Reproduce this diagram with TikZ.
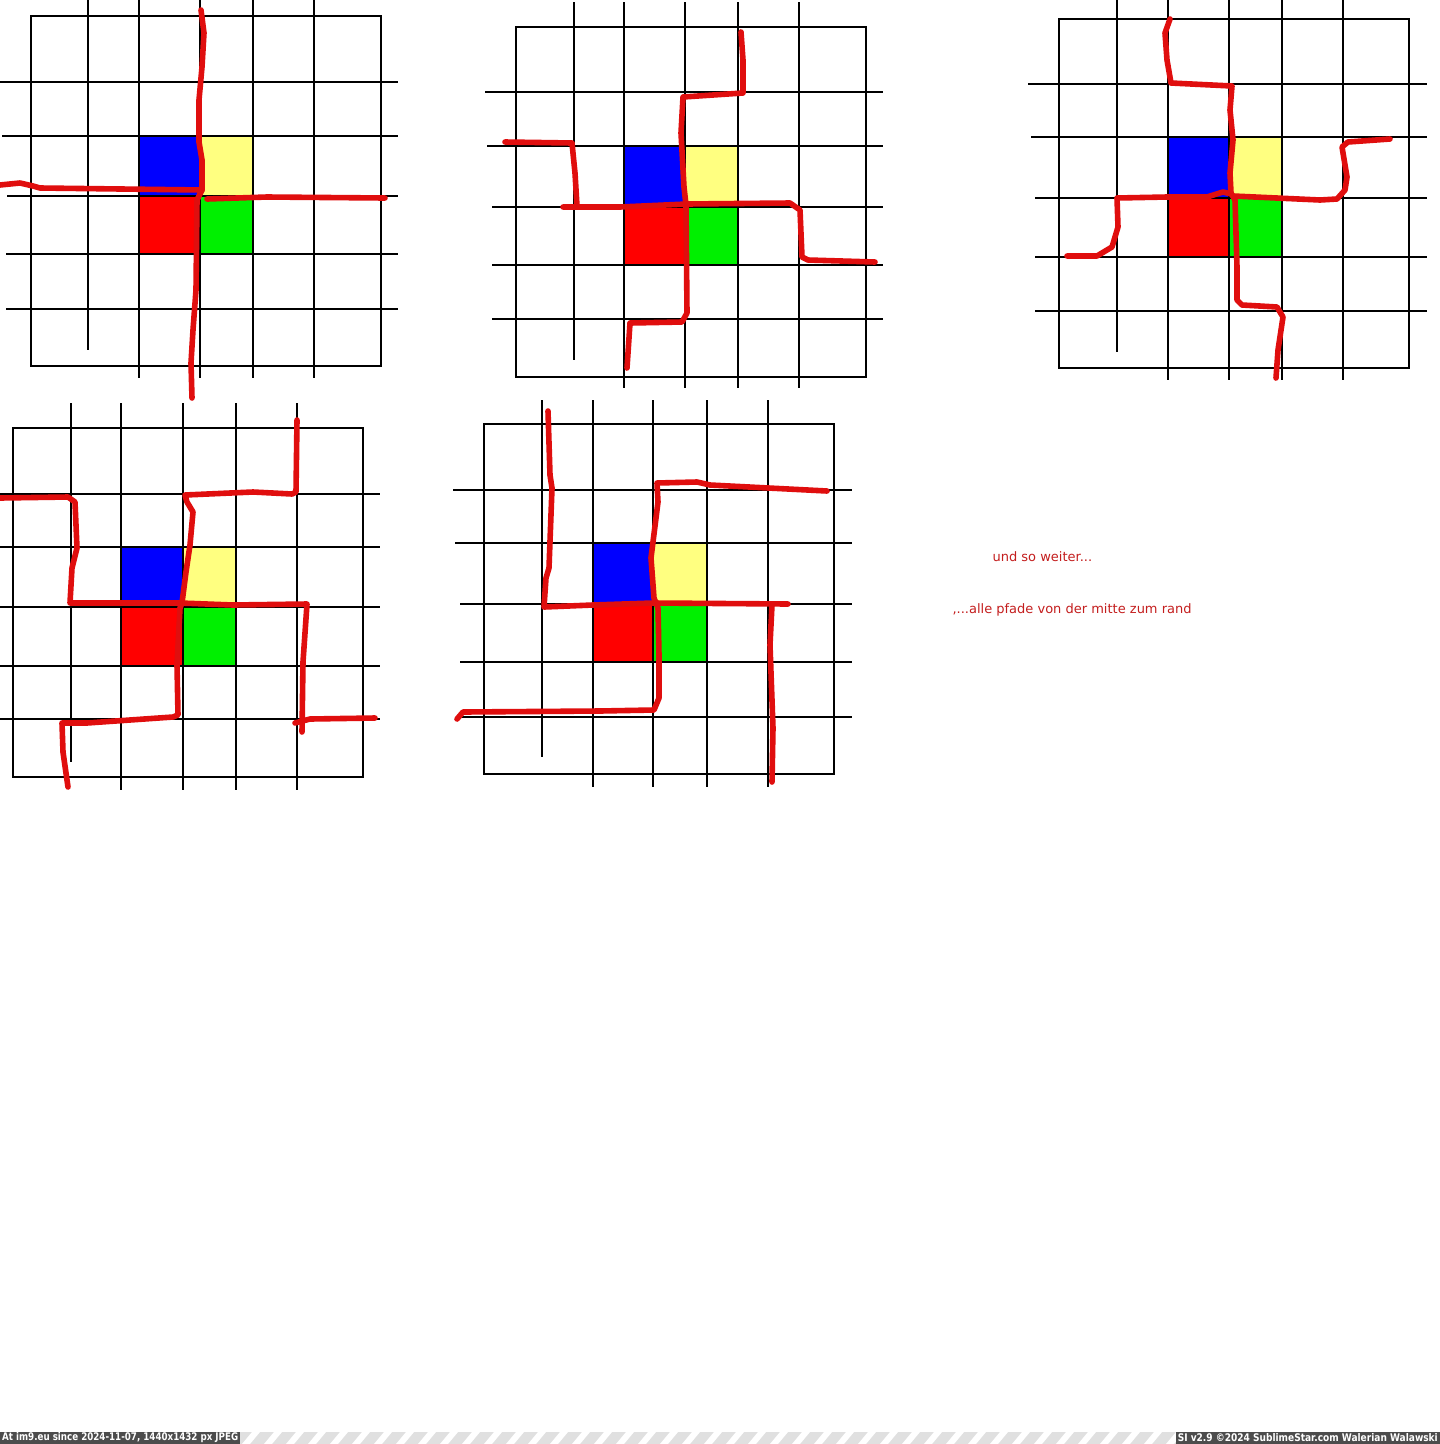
\documentclass[tikz,border=0pt]{standalone}
\usepackage{fontspec}
\setmainfont{DejaVu Sans}
\usepackage{graphicx}
\definecolor{pfadrot}{RGB}{224,14,14}
\definecolor{textrot}{RGB}{196,30,30}
\definecolor{feldblau}{RGB}{0,0,255}
\definecolor{feldgelb}{RGB}{255,255,128}
\definecolor{feldrot}{RGB}{255,0,0}
\definecolor{feldgruen}{RGB}{0,240,0}

\begin{document}
\begin{tikzpicture}[x=1pt,y=-1pt,
  gitter/.style={black, line width=1.2pt},
  pfad/.style={pfadrot, line width=5.6pt, line cap=round, line join=round},
  hinweis/.style={textrot, anchor=west, font=\fontsize{13}{15}\selectfont}]
\useasboundingbox (0,0) rectangle (1440,1444);
\fill[white] (0,0) rectangle (1440,1444);

\foreach \a/\b/\c/\d/\e/\f in {139/200/253/136/196/254, 624/685/738/146/207/265, 1168/1229/1282/137/198/257, 121/183/236/547/607/666, 593/653/707/543/604/662}{
  \fill[feldblau] (\a,\d) rectangle (\b,\e);
  \fill[feldgelb] (\b,\d) rectangle (\c,\e);
  \fill[feldrot] (\a,\e) rectangle (\b,\f);
  \fill[feldgruen] (\b,\e) rectangle (\c,\f);
}

\draw[gitter] (31,16) rectangle (381,366);
\foreach \x/\a/\b in {88/0/350, 139/0/378, 200/0/378, 253/0/378, 314/0/378} \draw[gitter] (\x,\a) -- (\x,\b);
\foreach \y/\a/\b in {82/0/398, 136/2/398, 196/7/398, 254/6/398, 309/6/398} \draw[gitter] (\a,\y) -- (\b,\y);

\draw[gitter] (516,27) rectangle (866,377);
\foreach \x/\a/\b in {574/2/360, 624/2/388, 685/2/388, 738/2/388, 799/2/388} \draw[gitter] (\x,\a) -- (\x,\b);
\foreach \y/\a/\b in {92/485/883, 146/487/883, 207/492/883, 265/492/883, 319/492/883} \draw[gitter] (\a,\y) -- (\b,\y);

\draw[gitter] (1059,19) rectangle (1409,368);
\foreach \x/\a/\b in {1117/0/352, 1168/0/380, 1229/0/380, 1282/0/380, 1343/0/380} \draw[gitter] (\x,\a) -- (\x,\b);
\foreach \y/\a/\b in {84/1028/1427, 137/1031/1427, 198/1035/1427, 257/1035/1427, 311/1035/1427} \draw[gitter] (\a,\y) -- (\b,\y);

\draw[gitter] (13,428) rectangle (363,777);
\foreach \x/\a/\b in {71/403/762, 121/403/790, 183/403/790, 236/403/790, 297/403/790} \draw[gitter] (\x,\a) -- (\x,\b);
\foreach \y/\a/\b in {494/0/380, 547/0/380, 607/0/380, 666/0/380, 719/0/380} \draw[gitter] (\a,\y) -- (\b,\y);

\draw[gitter] (484,424) rectangle (834,774);
\foreach \x/\a/\b in {542/400/757, 593/400/787, 653/400/787, 707/400/787, 768/400/787} \draw[gitter] (\x,\a) -- (\x,\b);
\foreach \y/\a/\b in {490/453/852, 543/455/852, 604/460/852, 662/460/852, 717/460/852} \draw[gitter] (\a,\y) -- (\b,\y);

\draw[pfad] (201,10) -- (204,33) -- (202,67) -- (199,100) -- (199,142) -- (202,160) -- (202,190) -- (197,200) -- (196,290) -- (193,330) -- (191,363) -- (192,398);
\draw[pfad] (0,185) -- (20,183) -- (33,186) -- (40,188) -- (202,190);
\draw[pfad] (207,199) -- (267,197) -- (385,198);

\draw[pfad] (741,32) -- (743,60) -- (743,93) -- (683,97) -- (681,133) -- (684,187) -- (686,205) -- (687,313) -- (682,322) -- (630,323) -- (627,368);
\draw[pfad] (505,142) -- (572,143) -- (575,173) -- (577,206);
\draw[pfad] (563,207) -- (620,207) -- (687,204) -- (790,203) -- (800,210) -- (802,257) -- (808,260) -- (875,262);

\draw[pfad] (1170,19) -- (1165,33) -- (1167,60) -- (1171,83) -- (1232,86) -- (1230,110) -- (1233,140) -- (1230,173) -- (1231,193) -- (1235,200) -- (1237,267) -- (1237,300) -- (1242,305) -- (1277,307) -- (1283,317) -- (1278,350) -- (1276,378);
\draw[pfad] (1067,256) -- (1097,256) -- (1112,247) -- (1118,227) -- (1117,198) -- (1167,197) -- (1207,197) -- (1223,192) -- (1231,194);
\draw[pfad] (1233,196) -- (1320,200) -- (1337,199) -- (1345,190) -- (1347,177) -- (1342,147) -- (1348,142) -- (1390,139);

\draw[pfad] (0,498) -- (68,497) -- (75,502) -- (77,548) -- (72,568) -- (70,603) -- (180,603) -- (233,605) -- (307,604) -- (303,662) -- (302,732);
\draw[pfad] (295,723) -- (310,719) -- (375,718);
\draw[pfad] (297,420) -- (296,492) -- (292,494) -- (253,492) -- (185,495) -- (187,502) -- (193,512) -- (190,545) -- (186,572) -- (182,603) -- (180,608) -- (177,665) -- (178,715) -- (173,717) -- (87,723) -- (62,723) -- (63,752) -- (68,787);

\draw[pfad] (548,411) -- (550,475) -- (552,488) -- (549,568) -- (546,578) -- (544,607) -- (593,605) -- (653,603) -- (788,604);
\draw[pfad] (827,491) -- (710,485) -- (697,482) -- (657,483) -- (658,502) -- (651,558) -- (654,598) -- (658,608) -- (659,655) -- (659,698) -- (654,710) -- (600,711) -- (463,712) -- (457,719);
\draw[pfad] (772,605) -- (770,645) -- (773,728) -- (772,782);

\node[hinweis] (weiter) at (989,557) {und so weiter...};
\node[hinweis] (rand) at (949,610) {,...alle pfade von der mitte zum rand};

\fill[black!12] (0,1432) rectangle (1440,1444);
\foreach \s in {0,22,...,1440} \fill[white] (\s,1444) -- (\s+8,1444) -- (\s+18,1432) -- (\s+10,1432) -- cycle;
\fill[black!70] (0,1432) rectangle (240,1444);
\fill[black!70] (1176,1432) rectangle (1440,1444);
\node[white, anchor=west, inner sep=1pt, font=\bfseries\fontsize{8}{9}\selectfont] (stempel) at (1,1438) {\resizebox{236pt}{8pt}{At im9.eu since 2024-11-07, 1440x1432 px JPEG}};
\node[white, anchor=east, inner sep=1pt, font=\bfseries\fontsize{8}{9}\selectfont] (signatur) at (1439,1438) {\resizebox{260pt}{8pt}{SI v2.9 ©2024 SublimeStar.com Walerian Walawski}};
\end{tikzpicture}
\end{document}
